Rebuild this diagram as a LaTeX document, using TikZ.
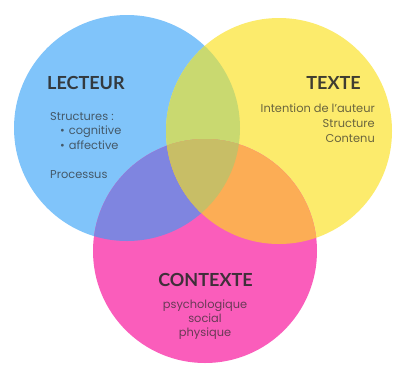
\documentclass[tikz,border=0pt]{standalone}
\usepackage{fontspec}
\setmainfont{Poppins}
\newfontfamily\headfont{Lato}
\definecolor{cblue}{HTML}{80C4FA}
\definecolor{cyellow}{HTML}{FCEB6C}
\definecolor{cpink}{HTML}{FA5DBB}
\definecolor{cby}{HTML}{C9D970}
\definecolor{cbp}{HTML}{7F85E0}
\definecolor{cyp}{HTML}{FCAD55}
\definecolor{cbyp}{HTML}{C8BE66}
\definecolor{ctext}{HTML}{2B2B2B}
\tikzset{
  headtext/.style={font=\headfont\bfseries\fontsize{18}{20}\selectfont, text=ctext, text opacity=0.9, inner sep=0pt},
  bodytext/.style={font=\fontsize{11.4}{14.5}\selectfont, text=ctext, text opacity=0.7, inner sep=0pt},
}
\begin{document}
\begin{tikzpicture}[x=1pt,y=-1pt]
\useasboundingbox (0,0) rectangle (393,365);
\fill[white] (0,0) rectangle (393,365);
\coordinate (B) at (127,128);
\coordinate (Y) at (279,131);
\coordinate (P) at (205,251);
\fill[cblue] (B) circle[radius=113pt];
\fill[cyellow] (Y) circle[radius=113pt];
\fill[cpink] (P) circle[radius=112pt];
\begin{scope}
  \clip (B) circle[radius=113pt];
  \fill[cby] (Y) circle[radius=113pt];
  \fill[cbp] (P) circle[radius=112pt];
  \clip (Y) circle[radius=113pt];
  \fill[cbyp] (P) circle[radius=112pt];
\end{scope}
\begin{scope}
  \clip (Y) circle[radius=113pt];
  \clip (P) circle[radius=112pt];
  \fill[cyp] (0,0) rectangle (393,365);
  \clip (B) circle[radius=113pt];
  \fill[cbyp] (0,0) rectangle (393,365);
\end{scope}
% LECTEUR
\node[headtext, anchor=base west] (lect) at (47,89) {LECTEUR};
\node[bodytext, anchor=base west] (struct) at (50,120) {Structures :};
\node[bodytext, anchor=base west] (cog) at (60,134) {\textbullet\hspace{4pt}cognitive};
\node[bodytext, anchor=base west] (aff) at (60,149) {\textbullet\hspace{4pt}affective};
\node[bodytext, anchor=base west] (proc) at (50,178) {Processus};
% TEXTE
\node[headtext, anchor=base east] (texte) at (361,89) {TEXTE};
\node[bodytext, anchor=base east] (inten) at (375,112) {Intention de l’auteur};
\node[bodytext, anchor=base east] (structure) at (375,127) {Structure};
\node[bodytext, anchor=base east] (contenu) at (375,142) {Contenu};
% CONTEXTE
\node[headtext, anchor=base] (ctx) at (205.5,286) {CONTEXTE};
\node[bodytext, anchor=base] (psy) at (205,308) {psychologique};
\node[bodytext, anchor=base] (soc) at (205,322) {social};
\node[bodytext, anchor=base] (phy) at (205,336) {physique};
\end{tikzpicture}
\end{document}
